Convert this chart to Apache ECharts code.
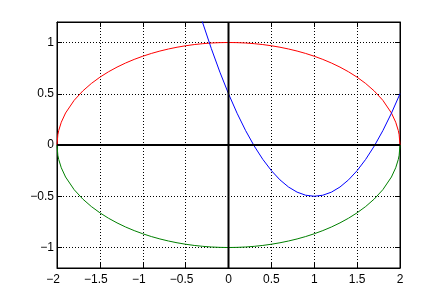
<!DOCTYPE html>
<html><head><meta charset="utf-8">
<script src="https://cdn.jsdelivr.net/npm/echarts@6/dist/echarts.min.js"></script>
<style>html,body{margin:0;padding:0;background:#fff}#c{width:442px;height:302px}</style>
</head><body><div id="c"></div>
<script>
// Upper (red) and lower (green) halves of the ellipse
const ellipseX = [-2,-1.99,-1.98,-1.95,-1.9,-1.8,-1.7,-1.6,-1.5,-1.4,-1.3,-1.2,-1.1,-1.0,-0.9,-0.8,-0.7,-0.6,-0.5,-0.4,-0.3,-0.2,-0.1,0,0.1,0.2,0.3,0.4,0.5,0.6,0.7,0.8,0.9,1.0,1.1,1.2,1.3,1.4,1.5,1.6,1.7,1.8,1.9,1.95,1.98,1.99,2];
const upperY = [0,0.0999,0.1411,0.2222,0.3122,0.4359,0.5268,0.6,0.6614,0.7141,0.7599,0.8,0.8352,0.866,0.893,0.9165,0.9367,0.9539,0.9682,0.9798,0.9887,0.995,0.9987,1,0.9987,0.995,0.9887,0.9798,0.9682,0.9539,0.9367,0.9165,0.893,0.866,0.8352,0.8,0.7599,0.7141,0.6614,0.6,0.5268,0.4359,0.3122,0.2222,0.1411,0.0999,0];
const lowerY = [0,-0.0999,-0.1411,-0.2222,-0.3122,-0.4359,-0.5268,-0.6,-0.6614,-0.7141,-0.7599,-0.8,-0.8352,-0.866,-0.893,-0.9165,-0.9367,-0.9539,-0.9682,-0.9798,-0.9887,-0.995,-0.9987,-1,-0.9987,-0.995,-0.9887,-0.9798,-0.9682,-0.9539,-0.9367,-0.9165,-0.893,-0.866,-0.8352,-0.8,-0.7599,-0.7141,-0.6614,-0.6,-0.5268,-0.4359,-0.3122,-0.2222,-0.1411,-0.0999,0];
// Blue parabola
const paraX = [-0.4,-0.3,-0.2,-0.1,0,0.1,0.2,0.3,0.4,0.5,0.6,0.7,0.8,0.9,1.0,1.1,1.2,1.3,1.4,1.5,1.6,1.7,1.8,1.9,2.0];
const paraY = [1.46,1.19,0.94,0.71,0.5,0.31,0.14,-0.01,-0.14,-0.25,-0.34,-0.41,-0.46,-0.49,-0.5,-0.49,-0.46,-0.41,-0.34,-0.25,-0.14,-0.01,0.14,0.31,0.5];
// Black axis lines
const hAxisX = [-2, 2];
const hAxisY = [0, 0];
const vAxisX = [0, 0];
const vAxisY = [-1.2, 1.2];
// Tick values / labels
const xTickValues = [-2,-1.5,-1,-0.5,0,0.5,1,1.5,2];
const xTicks = ['-2','-1.5','-1','-0.5','0','0.5','1','1.5','2'];
const yTickValues = [-1,-0.5,0,0.5,1];
const yTicks = ['-1','-0.5','0','0.5','1'];

const zip = (a, b) => a.map((v, i) => [v, b[i]]);
const findLab = (vals, labels, v) => { const i = vals.findIndex(t => Math.abs(t - v) < 1e-6); return i < 0 ? '' : labels[i]; };
const fmtX = v => { const s = findLab(xTickValues, xTicks, v); return s.startsWith('-') ? '{neg|' + s.replace('-', '\u2212') + '}' : s; };
const fmtY = v => findLab(yTickValues, yTicks, v).replace('-', '\u2212');
const font = { fontFamily: 'Liberation Sans, Arial, sans-serif', fontSize: 12, color: '#000' };
const lineBase = { type: 'line', showSymbol: false, symbol: 'none', animation: false, clip: true };
const tick = vals => ({ show: true, inside: true, length: 5, customValues: vals, lineStyle: { color: '#000' } });
const dotted = { show: true, lineStyle: { color: '#000', type: [1, 2], width: 1 } };
const solidAxis = { show: true, onZero: false, lineStyle: { color: '#000', width: 1 } };

const chart = echarts.init(document.getElementById('c'), null, { renderer: 'canvas' });
chart.setOption({
  backgroundColor: '#fff',
  animation: false,
  grid: { left: 57, right: 42, top: 22, bottom: 34, show: true, borderColor: '#000', borderWidth: 1, backgroundColor: 'transparent' },
  xAxis: [
    { type: 'value', min: -2, max: 2, interval: 0.5, position: 'bottom',
      axisLine: solidAxis, axisTick: tick(xTickValues),
      axisLabel: Object.assign({ margin: 6, customValues: xTickValues, formatter: fmtX,
        rich: { neg: Object.assign({ padding: [0, 8, 0, 0] }, font) } }, font),
      splitLine: dotted },
    { type: 'value', min: -2, max: 2, interval: 0.5, position: 'top',
      axisLine: solidAxis, axisTick: tick(xTickValues),
      axisLabel: { show: false }, splitLine: { show: false } }
  ],
  yAxis: [
    { type: 'value', min: -1.2, max: 1.2, position: 'left',
      axisLine: solidAxis, axisTick: tick(yTickValues),
      axisLabel: Object.assign({ margin: 3, customValues: yTickValues, formatter: fmtY }, font),
      splitLine: dotted },
    { type: 'value', min: -1.2, max: 1.2, position: 'right',
      axisLine: solidAxis, axisTick: tick(yTickValues),
      axisLabel: { show: false }, splitLine: { show: false } }
  ],
  series: [
    Object.assign({}, lineBase, { data: zip(ellipseX, upperY), lineStyle: { color: '#ff0000', width: 1 } }),
    Object.assign({}, lineBase, { data: zip(ellipseX, lowerY), lineStyle: { color: '#008000', width: 1 } }),
    Object.assign({}, lineBase, { data: zip(paraX, paraY), lineStyle: { color: '#0000ff', width: 1 } }),
    Object.assign({}, lineBase, { data: zip(hAxisX, hAxisY), lineStyle: { color: '#000', width: 2 } }),
    Object.assign({}, lineBase, { data: zip(vAxisX, vAxisY), lineStyle: { color: '#000', width: 2 } })
  ]
});
</script></body></html>
